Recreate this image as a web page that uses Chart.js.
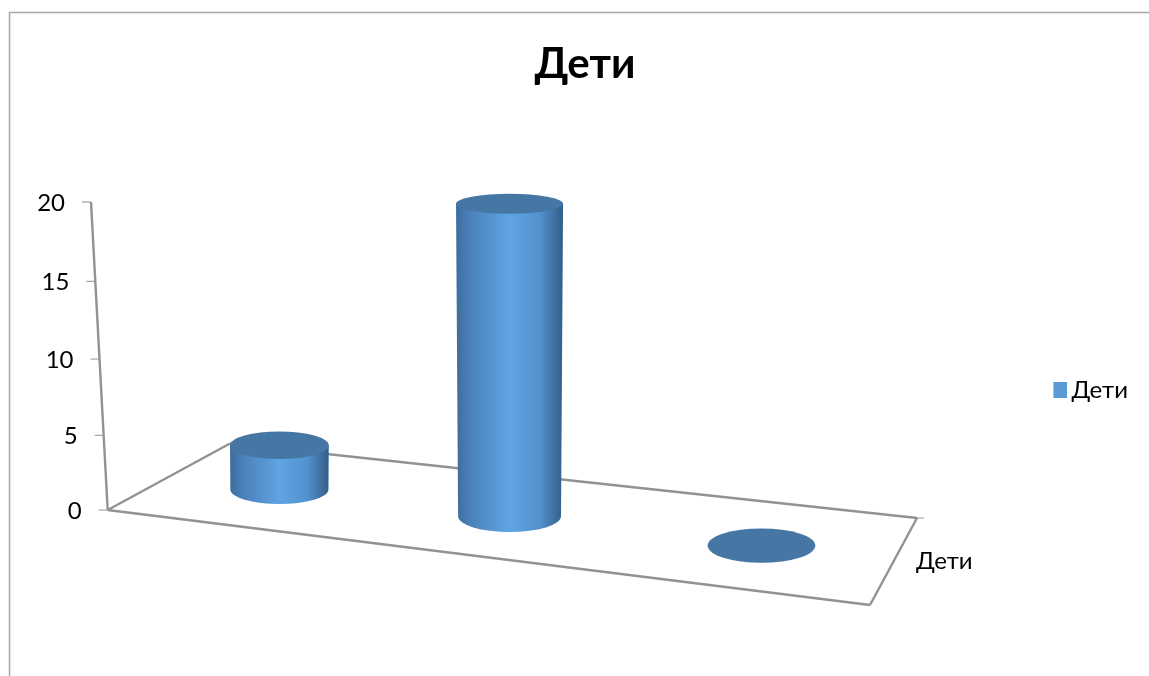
<!DOCTYPE html>
<html>
<head>
<meta charset="utf-8">
<title>Дети</title>
<script src="https://cdn.jsdelivr.net/npm/chart.js@4/dist/chart.umd.min.js"></script>
<style>
    html, body { margin: 0; padding: 0; background: #fff; overflow: hidden; }
    canvas { display: block; }
</style>
</head>
<body>
<canvas id="chart" width="1149" height="676"></canvas>
<script>
const categories = ['Категория 1', 'Категория 2', 'Категория 3'];
const seriesName = 'Дети';
const seriesValues = [3, 20, 0];
const tickValues = [0, 5, 10, 15, 20];

const FONT = 'Lato, "Noto Sans", sans-serif';
const AXIS_COLOR = '#929292';
const SERIES_COLOR = '#5b9bd5';

// floor of the 3d box on screen: front-left, front-right, back-right, back-left
const FLOOR = [[107.7, 510], [870, 605], [917, 518], [230, 443.5]];
const WALL_TOP = [91, 202];

// unit square -> floor quad
function floorPoint(u, v) {
    const [p0, p1, p2, p3] = FLOOR;
    const sx = p0[0] - p1[0] + p2[0] - p3[0];
    const sy = p0[1] - p1[1] + p2[1] - p3[1];
    const dx1 = p1[0] - p2[0], dx2 = p3[0] - p2[0];
    const dy1 = p1[1] - p2[1], dy2 = p3[1] - p2[1];
    const det = dx1 * dy2 - dx2 * dy1;
    const g = (sx * dy2 - dx2 * sy) / det;
    const h = (dx1 * sy - sx * dy1) / det;
    const a = p1[0] - p0[0] + g * p1[0];
    const b = p3[0] - p0[0] + h * p3[0];
    const d = p1[1] - p0[1] + g * p1[1];
    const e = p3[1] - p0[1] + h * p3[1];
    const w = g * u + h * v + 1;
    return [(a * u + b * v + p0[0]) / w, (d * u + e * v + p0[1]) / w];
}

// height fraction on the scale -> fraction on the slanted wall
function wallFraction(t) {
    return t * 0.961 / (1 - 0.039 * t);
}

function line(ctx, x1, y1, x2, y2) {
    ctx.beginPath();
    ctx.moveTo(x1, y1);
    ctx.lineTo(x2, y2);
    ctx.stroke();
}

function ellipseRatio(y) {
    return 0.108 + 0.000386 * y;
}

function drawCylinder(ctx, cx, baseY, topY, rxBase, rxTop) {
    const ryBase = rxBase * ellipseRatio(baseY);
    const ryTop = rxTop * ellipseRatio(topY);
    if (topY < baseY) {
        const grad = ctx.createLinearGradient(cx - rxTop, 0, cx + rxTop, 0);
        grad.addColorStop(0, '#3d6c9c');
        grad.addColorStop(0.12, '#4a80b8');
        grad.addColorStop(0.5, '#5fa4e4');
        grad.addColorStop(0.78, '#5392cd');
        grad.addColorStop(0.93, '#3e6e9f');
        grad.addColorStop(1, '#315f8a');
        ctx.fillStyle = grad;
        ctx.beginPath();
        ctx.moveTo(cx - rxTop, topY);
        ctx.lineTo(cx - rxBase, baseY);
        ctx.ellipse(cx, baseY, rxBase, ryBase, 0, Math.PI, 0, true);
        ctx.lineTo(cx + rxTop, topY);
        ctx.closePath();
        ctx.fill();
    }
    ctx.fillStyle = '#4677a4';
    ctx.beginPath();
    ctx.ellipse(cx, topY, rxTop, ryTop, 0, 0, Math.PI * 2);
    ctx.fill();
}

// legend swatch as a point style, so the text sits close to it
function legendSwatch() {
    const swatch = document.createElement('canvas');
    swatch.width = 16;
    swatch.height = 16;
    const sctx = swatch.getContext('2d');
    sctx.fillStyle = SERIES_COLOR;
    sctx.fillRect(0, 0, 16, 16);
    return swatch;
}

const box3d = {
    id: 'box3d',
    beforeDatasetsDraw(chart) {
        const { ctx } = chart;
        const yScale = chart.scales.y;
        const [a, b, c, d] = FLOOR;
        ctx.save();

        // outer frame
        ctx.strokeStyle = '#a9a9a9';
        ctx.lineWidth = 1.5;
        ctx.beginPath();
        ctx.moveTo(9.5, 676);
        ctx.lineTo(9.5, 12.5);
        ctx.lineTo(1149, 12.5);
        ctx.stroke();

        // walls and floor
        ctx.strokeStyle = AXIS_COLOR;
        ctx.lineWidth = 2.4;
        line(ctx, WALL_TOP[0], WALL_TOP[1], a[0], a[1]);
        line(ctx, a[0], a[1], b[0], b[1]);
        line(ctx, b[0], b[1], c[0], c[1]);
        line(ctx, c[0], c[1], d[0], d[1]);
        line(ctx, d[0], d[1], a[0], a[1]);
        ctx.lineWidth = 1;
        line(ctx, c[0], c[1], c[0] + 7, c[1]);
        line(ctx, d[0], d[1], d[0] + 7, d[1]);

        // value axis ticks and labels
        ctx.font = '24px ' + FONT;
        ctx.fillStyle = '#000';
        ctx.textAlign = 'right';
        ctx.textBaseline = 'middle';
        yScale.ticks.forEach(tick => {
            const t = (yScale.bottom - yScale.getPixelForValue(tick.value)) / (yScale.bottom - yScale.top);
            const f = wallFraction(t);
            const y = a[1] + (WALL_TOP[1] - a[1]) * f;
            const x = a[0] + (WALL_TOP[0] - a[0]) * f;
            ctx.strokeStyle = AXIS_COLOR;
            ctx.lineWidth = 1;
            line(ctx, x - 9, y, x, y);
            ctx.fillText(String(tick.value), x - 26, y + 1);
        });

        // depth axis label
        ctx.textAlign = 'left';
        ctx.fillText(seriesName, 916, 561);
        ctx.restore();
    },
    beforeDatasetDraw(chart, args) {
        // the cylinders below replace the flat bars
        const { ctx, chartArea } = chart;
        const yScale = chart.scales.y;
        const meta = chart.getDatasetMeta(args.index);
        const frontWidth = FLOOR[1][0] - FLOOR[0][0];
        ctx.save();
        meta.data.forEach(bar => {
            const u = (bar.x - chartArea.left) / chartArea.width;
            const base = floorPoint(u, 0.47);
            const rx = bar.width / chartArea.width * frontWidth / 2 * (1 + 0.14 * (u - 0.5));
            const t = (yScale.bottom - bar.y) / (yScale.bottom - yScale.top);
            const height = 308 * wallFraction(t) * (1 + (rx - 50) * 0.01);
            drawCylinder(ctx, base[0] + 3, base[1], base[1] - height, rx, rx * (1 + 0.04 * t));
        });
        ctx.restore();
        return false;
    }
};

Chart.defaults.font.family = FONT;
Chart.defaults.color = '#000';

new Chart(document.getElementById('chart'), {
    type: 'bar',
    data: {
        labels: categories,
        datasets: [{
            label: seriesName,
            data: seriesValues,
            backgroundColor: SERIES_COLOR,
            categoryPercentage: 1,
            barPercentage: 0.405
        }]
    },
    plugins: [box3d],
    options: {
        responsive: false,
        animation: false,
        layout: { padding: { left: 32, right: 11, top: 0, bottom: 0 } },
        plugins: {
            title: {
                display: true,
                text: 'Дети',
                font: { size: 42, weight: 'bold' },
                padding: { top: 39, bottom: 14.6 }
            },
            legend: {
                display: true,
                position: 'right',
                fullSize: false,
                labels: {
                    usePointStyle: true,
                    pointStyle: legendSwatch(),
                    pointStyleWidth: 1,
                    boxHeight: 16,
                    padding: 5,
                    font: { size: 24 }
                }
            },
            tooltip: { enabled: false }
        },
        scales: {
            x: { display: false },
            y: {
                display: false,
                min: 0,
                max: 20,
                afterBuildTicks(scale) {
                    scale.ticks = tickValues.map(value => ({ value }));
                }
            }
        }
    }
});
</script>
</body>
</html>
